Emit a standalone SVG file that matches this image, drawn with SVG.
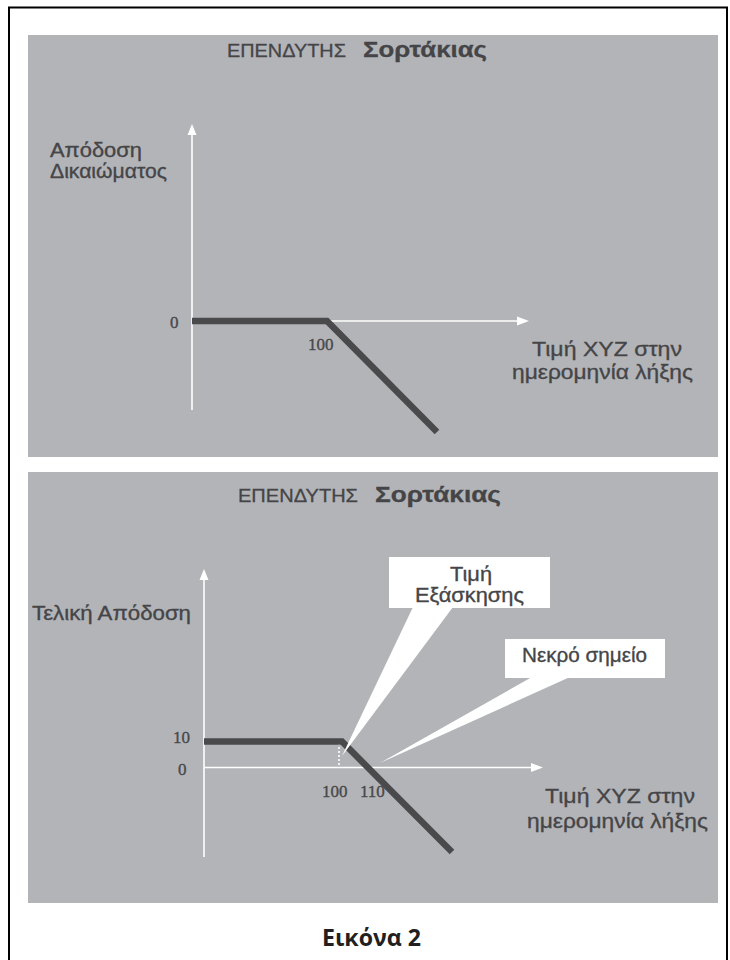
<svg xmlns="http://www.w3.org/2000/svg" width="730" height="960" viewBox="0 0 730 960">
  <defs>
    <style>
      .panel { fill: #b3b4b8; }
      .axis { stroke: #ffffff; stroke-width: 1.6; fill: none; }
      .head { fill: #ffffff; }
      .payoff { stroke: #4a4a4c; stroke-width: 6.5; fill: none; stroke-linejoin: miter; }
      .lbl { font-family: "Liberation Sans", Arial, sans-serif; font-size: 21px; fill: #454547; stroke: #454547; stroke-width: 0.35; }
      .ttl { font-family: "Liberation Sans", Arial, sans-serif; fill: #454547; stroke: #454547; stroke-width: 0.3; }
      .num { font-family: "Liberation Serif", "Times New Roman", serif; font-size: 17px; fill: #48484a; stroke: #48484a; stroke-width: 0.35; }
      .callout { fill: #ffffff; }
      .cap { font-family: "Open Sans", "Liberation Sans", sans-serif; font-weight: bold; font-size: 24px; fill: #231f20; }
    </style>
  </defs>

  <rect x="0" y="0" width="730" height="960" fill="#ffffff"/>
  <!-- outer frame, open at the bottom edge -->
  <rect x="9" y="7.5" width="718" height="965" fill="none" stroke="#000000" stroke-width="2"/>

  <!-- upper chart: option payoff -->
  <g id="chart-top">
    <rect class="panel" x="28" y="35" width="690" height="422"/>
    <text class="ttl" x="227" y="57" font-size="18.6" textLength="119" lengthAdjust="spacingAndGlyphs">ΕΠΕΝΔΥΤΗΣ</text>
    <text class="ttl" x="363" y="57" font-size="22.5" font-weight="bold" textLength="124" lengthAdjust="spacingAndGlyphs">Σορτάκιας</text>

    <g id="top-axes">
      <line class="axis" x1="192" y1="133" x2="192" y2="410"/>
      <polygon class="head" points="192,124 187.5,135 196.5,135"/>
      <line class="axis" x1="192" y1="321" x2="518" y2="321"/>
      <polygon class="head" points="529,321 517,316.5 517,325.5"/>
    </g>
    <polyline class="payoff" points="192,321 327,321 437,432"/>

    <text class="lbl" x="50" y="157" textLength="92" lengthAdjust="spacingAndGlyphs">Απόδοση</text>
    <text class="lbl" x="50" y="178" textLength="117" lengthAdjust="spacingAndGlyphs">Δικαιώματος</text>
    <text class="num" x="170" y="328">0</text>
    <text class="num" x="308" y="350">100</text>
    <text class="lbl" x="532" y="356" font-size="20" textLength="150" lengthAdjust="spacingAndGlyphs">Τιμή XYZ στην</text>
    <text class="lbl" x="512" y="379" font-size="20" textLength="181" lengthAdjust="spacingAndGlyphs">ημερομηνία λήξης</text>
  </g>

  <!-- lower chart: final return with callouts -->
  <g id="chart-bottom">
    <rect class="panel" x="28" y="472" width="690" height="431"/>
    <text class="ttl" x="238" y="502" font-size="18.6" textLength="120" lengthAdjust="spacingAndGlyphs">ΕΠΕΝΔΥΤΗΣ</text>
    <text class="ttl" x="375" y="502" font-size="22.5" font-weight="bold" textLength="126" lengthAdjust="spacingAndGlyphs">Σορτάκιας</text>

    <g id="bottom-axes">
      <line class="axis" x1="204" y1="578" x2="204" y2="857"/>
      <polygon class="head" points="204,569 199.5,580 208.5,580"/>
      <line class="axis" x1="204" y1="767.5" x2="532" y2="767.5"/>
      <polygon class="head" points="543,767.5 531,763 531,772"/>
    </g>
    <line x1="339" y1="743" x2="339" y2="765" stroke="#ffffff" stroke-width="1.6" stroke-dasharray="2,2"/>
    <polyline class="payoff" points="204,741.5 342,741.5 452,852"/>

    <text class="lbl" x="32" y="620" textLength="159" lengthAdjust="spacingAndGlyphs">Τελική Απόδοση</text>
    <text class="num" x="173" y="743">10</text>
    <text class="num" x="178" y="775">0</text>
    <text class="num" x="322" y="797">100</text>
    <text class="num" x="360" y="797">110</text>
    <text class="lbl" x="545" y="803" textLength="150" lengthAdjust="spacingAndGlyphs">Τιμή XYZ στην</text>
    <text class="lbl" x="527" y="828" textLength="181" lengthAdjust="spacingAndGlyphs">ημερομηνία λήξης</text>

    <g id="callout-strike">
      <polygon class="callout" points="413,607 453,607 342,756"/>
      <rect class="callout" x="389" y="557" width="161" height="51"/>
      <text class="lbl" x="450" y="581" font-size="20" textLength="42" lengthAdjust="spacingAndGlyphs">Τιμή</text>
      <text class="lbl" x="415" y="602" font-size="20" textLength="109" lengthAdjust="spacingAndGlyphs">Εξάσκησης</text>
    </g>

    <g id="callout-breakeven">
      <polygon class="callout" points="532,677 570,677 380,763"/>
      <rect class="callout" x="505" y="639" width="160" height="39"/>
      <text class="lbl" x="522" y="662" font-size="20" textLength="125" lengthAdjust="spacingAndGlyphs">Νεκρό σημείο</text>
    </g>
  </g>

  <text id="caption" class="cap" x="322" y="946" textLength="99" lengthAdjust="spacingAndGlyphs">Εικόνα 2</text>
</svg>
